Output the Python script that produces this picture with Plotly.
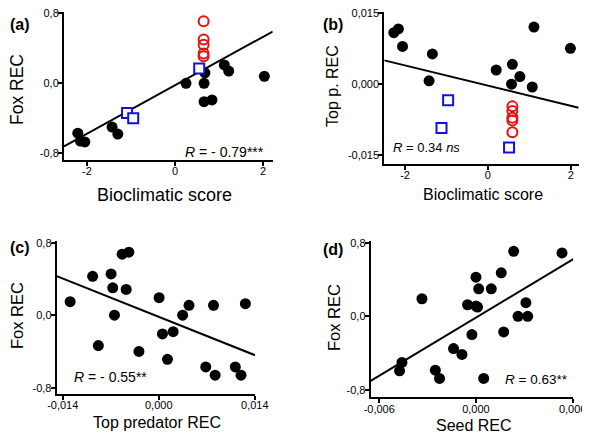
import plotly.graph_objects as go

# ---------------- data ----------------
# Panel (a): Bioclimatic score vs Fox REC
a_black_x = [-2.21, -2.15, -2.05, -1.43, -1.30, 0.25, 0.68, 0.66, 0.66, 0.84, 1.12, 1.22, 2.03]
a_black_y = [-0.57, -0.66, -0.67, -0.50, -0.58, 0.00, 0.12, 0.00, -0.21, -0.19, 0.21, 0.14, 0.08]
a_sq_x = [-1.09, -0.95, 0.55]
a_sq_y = [-0.34, -0.40, 0.17]
a_circ_x = [0.65, 0.65, 0.65, 0.65, 0.65]
a_circ_y = [0.71, 0.50, 0.44, 0.34, 0.31]
a_fit = (0.277, -0.023)  # slope, intercept

# Panel (b): Bioclimatic score vs Top predator REC
b_black_x = [-2.27, -2.16, -2.06, -1.34, -1.42, 0.20, 0.59, 0.57, 0.77, 1.07, 1.11, 1.99]
b_black_y = [0.0109, 0.0117, 0.0080, 0.0064, 0.0007, 0.0030, 0.0042, 0.0000, 0.0016, -0.0006, 0.0121, 0.0076]
b_sq_x = [-0.96, -1.12, 0.51]
b_sq_y = [-0.0034, -0.0093, -0.0134]
b_circ_x = [0.59, 0.59, 0.59, 0.59, 0.59]
b_circ_y = [-0.0047, -0.0057, -0.0071, -0.0077, -0.0102]
b_fit = (-0.00214, -0.00031)

# Panel (c): Top predator REC vs Fox REC
c_x = [-0.01292, -0.00964, -0.00881, -0.00695, -0.00671, -0.00646, -0.00534, -0.00436, -0.00475,
       -0.00289, 0.00005, 0.00054, 0.00127, 0.00210, 0.00348, 0.00441, 0.00685, 0.00798, 0.00822,
       0.01116, 0.01199, 0.01263]
c_y = [0.149, 0.429, -0.335, 0.455, 0.302, 0.0, 0.673, 0.695, 0.284, -0.40, 0.193, -0.207, -0.487,
       -0.182, 0.0, 0.109, -0.571, 0.109, -0.662, -0.571, -0.662, 0.127]
c_fit = (-30.2, -0.018)

# Panel (d): Seed REC vs Fox REC
d_x = [-0.00474, -0.00459, -0.00335, -0.00252, -0.00226, -0.00139, -0.00087, -0.00052, -0.00025,
       0.0, 0.0, 0.00017, 0.0001, 0.00048, 0.00095, 0.00157, 0.00172, 0.00234, 0.00261, 0.00310,
       0.00321, 0.00534]
d_y = [-0.591, -0.501, 0.191, -0.584, -0.674, -0.350, -0.414, 0.126, -0.198, 0.425, 0.112, 0.299,
       0.101, -0.674, 0.299, 0.472, -0.169, 0.706, 0.0, 0.148, 0.0, 0.688]
d_fit = (105.1, -0.0137)

fox_ticks = [-0.8, 0.0, 0.8]
fox_ticktext = ["-0,8", "0,0", "0,8"]
bio_ticks = [-2, 0, 2]
bio_ticktext = ["-2", "0", "2"]
top_ticks = [-0.015, 0.0, 0.015]
top_ticktext = ["-0,015", "0,000", "0,015"]
pred_ticks = [-0.014, 0.0, 0.014]
pred_ticktext = ["-0,014", "0,000", "0,014"]
seed_ticks = [-0.006, 0.0, 0.006]
seed_ticktext = ["-0,006", "0,000", "0,006"]

# ---------------- figure ----------------
W, H = 590, 435
OFF = 8  # page body margin
FW, FH = W - OFF, H - OFF
FONT = "Arial, Liberation Sans, sans-serif"

def px_x(p):
    return (p - OFF) / FW

def px_y(p):
    return 1 - (p - OFF) / FH

panels = {
    "a": dict(xd=[64, 272.7], yd=[12, 160], xr=[-2.523, 2.22], yr=[-0.877, 0.815]),
    "b": dict(xd=[384.3, 578.7], yd=[12, 164], xr=[-2.5, 2.19], yr=[-0.0169, 0.01528]),
    "c": dict(xd=[56.7, 255], yd=[241, 394], xr=[-0.01488, 0.01403], yr=[-0.87, 0.819]),
    "d": dict(xd=[370.7, 573.3], yd=[241, 397.3], xr=[-0.00653, 0.00604], yr=[-0.879, 0.818]),
}

fig = go.Figure()

def add_fit(fit, xr, ax):
    m, b = fit
    xs = [xr[0], xr[1]]
    ys = [m * v + b for v in xs]
    fig.add_trace(go.Scatter(x=xs, y=ys, mode="lines", line=dict(color="black", width=2),
                             xaxis="x" + ax, yaxis="y" + ax, showlegend=False, hoverinfo="skip"))

def add_black(xs, ys, ax):
    fig.add_trace(go.Scatter(x=xs, y=ys, mode="markers",
                             marker=dict(color="black", size=11, line=dict(width=0)),
                             xaxis="x" + ax, yaxis="y" + ax, showlegend=False))

def add_sq(xs, ys, ax):
    fig.add_trace(go.Scatter(x=xs, y=ys, mode="markers",
                             marker=dict(symbol="square", color="white", size=10,
                                         line=dict(color="#1010e0", width=2)),
                             xaxis="x" + ax, yaxis="y" + ax, showlegend=False))

def add_circ(xs, ys, ax):
    fig.add_trace(go.Scatter(x=xs, y=ys, mode="markers",
                             marker=dict(symbol="circle-open", color="#e81010", size=10,
                                         line=dict(color="#e81010", width=2)),
                             xaxis="x" + ax, yaxis="y" + ax, showlegend=False))

# (a)
add_fit(a_fit, panels["a"]["xr"], "")
add_black(a_black_x, a_black_y, "")
add_sq(a_sq_x, a_sq_y, "")
add_circ(a_circ_x, a_circ_y, "")
# (b)
add_fit(b_fit, panels["b"]["xr"], "2")
add_black(b_black_x, b_black_y, "2")
add_sq(b_sq_x, b_sq_y, "2")
add_circ(b_circ_x, b_circ_y, "2")
# (c)
add_fit(c_fit, panels["c"]["xr"], "3")
add_black(c_x, c_y, "3")
# (d)
add_fit(d_fit, panels["d"]["xr"], "4")
add_black(d_x, d_y, "4")

def axis(dom, rng, tv, tt, anchor, standoff):
    return dict(domain=dom, range=rng, tickvals=tv, ticktext=tt, anchor=anchor,
                showline=True, linecolor="black", linewidth=2, ticks="outside",
                ticklen=4, tickwidth=2, tickcolor="black", showgrid=False, zeroline=False,
                automargin=False, ticklabelstandoff=standoff, ticklabeloverflow="allow",
                tickfont=dict(family=FONT, size=11, color="black"), fixedrange=True)

layout = dict(width=FW, height=FH, margin=dict(l=0, r=0, t=0, b=0, pad=0, autoexpand=False),
              paper_bgcolor="white", plot_bgcolor="white", showlegend=False)

spec = [("a", "", bio_ticks, bio_ticktext, fox_ticks, fox_ticktext),
        ("b", "2", bio_ticks, bio_ticktext, top_ticks, top_ticktext),
        ("c", "3", pred_ticks, pred_ticktext, fox_ticks, fox_ticktext),
        ("d", "4", seed_ticks, seed_ticktext, fox_ticks, fox_ticktext)]
for key, n, xtv, xtt, ytv, ytt in spec:
    p = panels[key]
    xd = [px_x(p["xd"][0]), px_x(p["xd"][1])]
    yd = [px_y(p["yd"][1]), px_y(p["yd"][0])]
    layout["xaxis" + n] = axis(xd, p["xr"], xtv, xtt, "y" + n, -4)
    layout["yaxis" + n] = axis(yd, p["yr"], ytv, ytt, "x" + n, -3)

fig.update_layout(**layout)

ann = []
def txt(text, x, y, size, xanchor="center", angle=0, yanchor="middle"):
    ann.append(dict(text=text, x=px_x(x), y=px_y(y), xref="paper", yref="paper",
                    showarrow=False, xanchor=xanchor, yanchor=yanchor, textangle=angle,
                    font=dict(family=FONT, size=size, color="black")))

# panel labels
txt("<b>(a)</b>", 8, 24, 16, "left")
txt("<b>(b)</b>", 321, 24, 16, "left")
txt("<b>(c)</b>", 8, 248, 16, "left")
txt("<b>(d)</b>", 321, 250, 16, "left")
# R texts
txt("<i>R</i> = - 0.79***", 266, 152, 14, "right")
txt("<i>R</i> = 0.34 <i>ns</i>", 391, 148, 13, "left")
txt("<i>R</i> = - 0.55**", 72, 377, 14, "left")
txt("<i>R</i> = 0.63**", 503, 379, 13.5, "left")
# axis titles
txt("Bioclimatic score", 164, 195, 18)
txt("Bioclimatic score", 483, 194, 16)
txt("Top predator REC", 157, 422, 16)
txt("Seed REC", 474, 425, 16)
txt("Fox REC", 17, 90, 17.5, angle=-90)
txt("Top p. REC", 333, 86, 16, angle=-90)
txt("Fox REC", 17, 316, 16.5, angle=-90)
txt("Fox REC", 334, 318, 16.5, angle=-90)

fig.update_layout(annotations=ann)
fig.write_html("out.html")
